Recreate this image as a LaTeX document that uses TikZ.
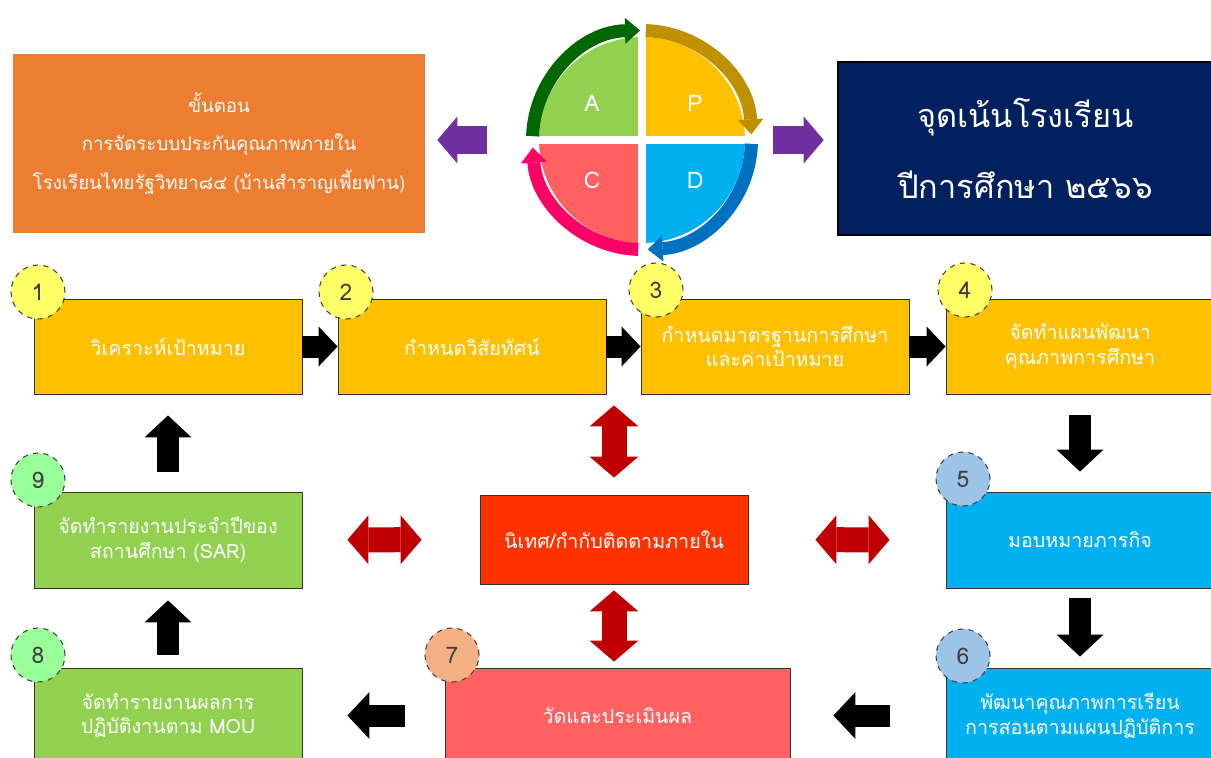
\documentclass[tikz,border=0pt]{standalone}
\usepackage{fontspec}
\usepackage{tikz}
\usetikzlibrary{arrows.meta}
\newfontfamily\thaifont[Script=Thai]{Loma}
\definecolor{orangebox}{HTML}{ED7D31}
\definecolor{navybox}{HTML}{002060}
\definecolor{yellowbox}{HTML}{FFC000}
\definecolor{greenbox}{HTML}{92D050}
\definecolor{bluebox}{HTML}{00B0F0}
\definecolor{redbox}{HTML}{FF3300}
\definecolor{pinkbox}{HTML}{FF6161}
\definecolor{darkred}{HTML}{C00000}
\definecolor{purplearrow}{HTML}{7030A0}
\definecolor{arcgreen}{HTML}{006600}
\definecolor{arcgold}{HTML}{BF9000}
\definecolor{arcblue}{HTML}{0070C0}
\definecolor{arcpink}{HTML}{FF0066}
\definecolor{numyellow}{HTML}{FFFF66}
\definecolor{numblue}{HTML}{9DC3E6}
\definecolor{numorange}{HTML}{F4B183}
\definecolor{numgreen}{HTML}{99FF99}

\begin{document}
\begin{tikzpicture}[auto,
    box/.style={draw=black!80, line width=0.5pt, minimum width=5.36cm, minimum height=1.9cm,
      text=white, align=center, font=\thaifont\fontsize{11.2}{14}\selectfont},
    num/.style={circle, draw=black!75, dashed, line width=0.6pt, minimum size=1.08cm,
      text=black!75, font=\thaifont\fontsize{13}{13}\selectfont},
    blk/.style={line width=0.44cm, -{Triangle[width=0.94cm,length=0.44cm,line width=0pt]}},
    sblk/.style={line width=0.44cm, -{Triangle[width=0.8cm,length=0.38cm,line width=0pt]}},
    dbl/.style={line width=0.5cm, darkred,
      {Triangle[width=0.98cm,length=0.42cm,line width=0pt]}-{Triangle[width=0.98cm,length=0.42cm,line width=0pt]}},
    pur/.style={line width=0.56cm, purplearrow, -{Triangle[width=0.94cm,length=0.4cm,line width=0pt]}},
    cyc/.style={line width=0.26cm, -{Triangle[width=0.52cm,length=0.3cm,line width=0pt]}},
    quad/.style={text=white, font=\thaifont\fontsize{13}{13}\selectfont}]

    \useasboundingbox (0,0) rectangle (24.22,-15.16);

    \node [fill=orangebox, minimum width=8.24cm, minimum height=3.58cm, text=white, align=center,
      font=\thaifont\fontsize{10.6}{22}\selectfont] (steps) at (4.38,-2.87)
      {ขั้นตอน\\การจัดระบบประกันคุณภาพภายใน\\โรงเรียนไทยรัฐวิทยา๘๔ (บ้านสำราญเพี้ยฟาน)};
    \node [fill=navybox, draw=black, line width=1.5pt, minimum width=7.5cm, minimum height=3.46cm,
      text=white, align=center, font=\thaifont\fontsize{18.5}{40}\selectfont] (focus) at (20.51,-2.97)
      {จุดเน้นโรงเรียน\\ปีการศึกษา ๒๕๖๖};

    \node [circle, minimum size=4.64cm] (pdca) at (12.84,-2.8) {};
    \fill [greenbox] (pdca.center) -- ++(180:2.06) arc [start angle=180, end angle=90, radius=2.06] -- cycle;
    \fill [yellowbox] (pdca.center) -- ++(90:2.06) arc [start angle=90, end angle=0, radius=2.06] -- cycle;
    \fill [bluebox] (pdca.center) -- ++(0:2.06) arc [start angle=0, end angle=-90, radius=2.06] -- cycle;
    \fill [pinkbox] (pdca.center) -- ++(-90:2.06) arc [start angle=270, end angle=180, radius=2.06] -- cycle;
    \draw [white, line width=0.16cm] (pdca.west) -- (pdca.east);
    \draw [white, line width=0.16cm] (pdca.north) -- (pdca.south);
    \draw [cyc, arcgreen] (pdca.center) ++(178:2.19) arc [start angle=178, end angle=91, radius=2.19];
    \draw [cyc, arcgold] (pdca.center) ++(88:2.19) arc [start angle=88, end angle=3, radius=2.19];
    \draw [cyc, arcblue] (pdca.center) ++(-2:2.19) arc [start angle=-2, end angle=-87, radius=2.19];
    \draw [cyc, arcpink] (pdca.center) ++(268:2.19) arc [start angle=268, end angle=184, radius=2.19];
    \node [quad] (qa) at (11.84,-2.06) {A};
    \node [quad] (qp) at (13.9,-2.06) {P};
    \node [quad] (qc) at (11.84,-3.6) {C};
    \node [quad] (qd) at (13.9,-3.6) {D};

    \draw [pur, shorten <=0.78cm, shorten >=0.24cm] (pdca.west) -- (pdca.west -| steps.east);
    \draw [pur, shorten <=0.3cm, shorten >=0.26cm] (pdca.east) -- (pdca.east -| focus.west);

    \node [box, fill=yellowbox] (b1) at (3.36,-6.93) {วิเคราะห์เป้าหมาย};
    \node [box, fill=yellowbox] (b2) at (9.44,-6.93) {กำหนดวิสัยทัศน์};
    \node [box, fill=yellowbox] (b3) at (15.5,-6.93) {กำหนดมาตรฐานการศึกษา\\และค่าเป้าหมาย};
    \node [box, fill=yellowbox] (b4) at (21.6,-6.93) {จัดทำแผนพัฒนา\\คุณภาพการศึกษา};
    \node [box, fill=bluebox, minimum height=1.92cm] (b5) at (21.6,-10.8) {มอบหมายภารกิจ};
    \node [box, fill=bluebox] (b6) at (21.6,-14.31) {พัฒนาคุณภาพการเรียน\\การสอนตามแผนปฏิบัติการ};
    \node [box, fill=pinkbox, minimum width=6.9cm] (b7) at (12.35,-14.31) {วัดและประเมินผล};
    \node [box, fill=greenbox] (b8) at (3.36,-14.31) {จัดทำรายงานผลการ\\ปฏิบัติงานตาม MOU};
    \node [box, fill=greenbox, minimum height=1.92cm] (b9) at (3.36,-10.8) {จัดทำรายงานประจำปีของ\\สถานศึกษา (SAR)};
    \node [box, fill=redbox, minimum height=1.78cm] (inspect) at (12.28,-10.79) {นิเทศ/กำกับติดตามภายใน};

    \node [num, fill=numyellow] (n1) at (0.76,-5.84) {1};
    \node [num, fill=numyellow] (n2) at (6.92,-5.84) {2};
    \node [num, fill=numyellow] (n3) at (13.12,-5.8) {3};
    \node [num, fill=numyellow] (n4) at (19.3,-5.8) {4};
    \node [num, fill=numblue] (n5) at (19.26,-9.58) {5};
    \node [num, fill=numblue] (n6) at (19.26,-13.12) {6};
    \node [num, fill=numorange] (n7) at (9.04,-13.1) {7};
    \node [num, fill=numgreen] (n8) at (0.76,-13.1) {8};
    \node [num, fill=numgreen] (n9) at (0.76,-9.6) {9};

    \draw [sblk] (b1) -- (b2);
    \draw [sblk] (b2) -- (b3);
    \draw [sblk] (b3) -- (b4);
    \draw [blk, shorten <=0.42cm, shorten >=0.4cm] (b4) -- (b5);
    \draw [blk, shorten <=0.2cm, shorten >=0.22cm] (b5) -- (b6);
    \draw [blk, shorten <=1.12cm, shorten >=0.86cm] (b6) -- (b7);
    \draw [blk, shorten <=0.8cm, shorten >=0.9cm] (b7) -- (b8);
    \draw [blk, shorten <=0.26cm, shorten >=0.24cm] (b8) -- (b9);
    \draw [blk, shorten <=0.4cm, shorten >=0.42cm] (b9) -- (b1);

    \draw [dbl, shorten <=0.9cm, shorten >=1.16cm] (b9) -- (inspect);
    \draw [dbl, shorten <=1.34cm, shorten >=1.12cm] (inspect) -- (b5);
    \draw [dbl, shorten <=0.34cm, shorten >=0.22cm] (inspect.north) -- (inspect.north |- b3.south);
    \draw [dbl, shorten <=0.12cm, shorten >=0.12cm] (inspect.south) -- (inspect.south |- b7.north);
\end{tikzpicture}
\end{document}
